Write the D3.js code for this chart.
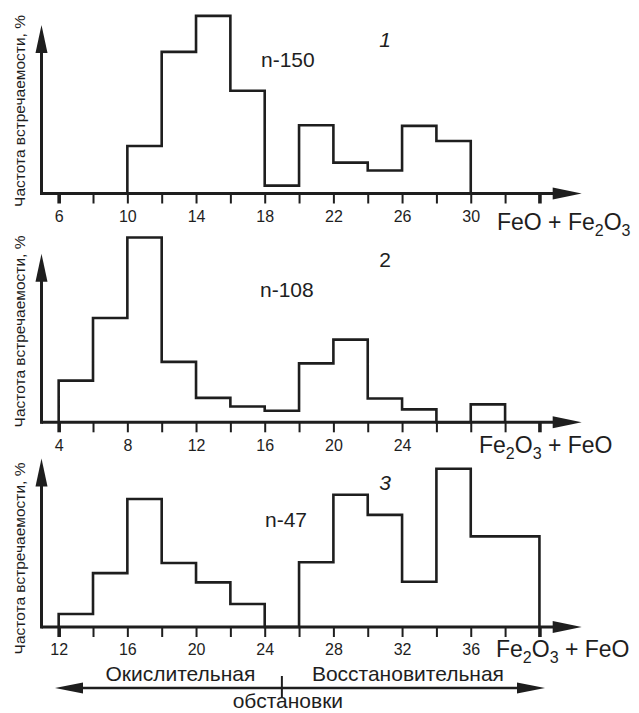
<!DOCTYPE html>
<html>
<head>
<meta charset="utf-8">
<script src="https://cdn.jsdelivr.net/npm/d3@7"></script>
<style>
  html, body { margin: 0; padding: 0; background: #fff; }
  svg text { font-family: "Liberation Sans", Arial, sans-serif; fill: #1e1e1e; }
</style>
</head>
<body>
<div id="chart"></div>
<script>
// histogram bins (class edges, wt.%) and frequencies (%)
const edges1 = [10, 12, 14, 16, 18, 20, 22, 24, 26, 28, 30];
const freq1 = [6.6, 19.7, 24.7, 14.3, 1.1, 9.5, 4.3, 3.2, 9.4, 7.3];

const edges2 = [4, 6, 8, 10, 12, 14, 16, 18, 20, 22, 24, 26, 28, 30];
const freq2 = [5.8, 14.5, 25.7, 8.4, 3.4, 2.2, 1.6, 8.2, 11.5, 3.3, 1.8, 0, 2.5];

const edges3 = [12, 14, 16, 18, 20, 22, 24, 26, 28, 30, 32, 34, 36, 40];
const freq3 = [1.8, 7.5, 17.8, 8.9, 6.2, 3.2, 0, 9.0, 18.4, 15.6, 6.3, 22.0, 12.6];

// axis ranges and labelled ticks
const domain1 = [5, 34], labels1 = [6, 10, 14, 18, 22, 26, 30];
const domain2 = [3, 32], labels2 = [4, 8, 12, 16, 20, 24];
const domain3 = [11, 40], labels3 = [12, 16, 20, 24, 28, 32, 36];

const sampleN = ["n-150", "n-108", "n-47"];
const panelNo = ["1", "2", "3"];
const yTitle = "Частота встречаемости, %";

// redox boundary for the bottom panel
const boundary = 25;
const regimeLabels = ["Окислительная", "Восстановительная"];
const regimeNote = "обстановки";

const W = 639, H = 713;
const color = "#1e1e1e";

const svg = d3.select("#chart").append("svg")
    .attr("width", W)
    .attr("height", H);

// layout of the three panels
const panels = [
  {edges: edges1, freq: freq1, domain: domain1, labels: labels1, base: 193.5, yMid: 111,
   title: [["FeO + Fe", 0], ["2", 1], ["O", 0], ["3", 1]], titleX: 497, titleY: 230,
   nX: 261, nY: 66.7, noY: 47, italic: true},
  {edges: edges2, freq: freq2, domain: domain2, labels: labels2, base: 422.3, yMid: 331.5,
   title: [["Fe", 0], ["2", 1], ["O", 0], ["3", 1], [" + FeO", 0]], titleX: 479, titleY: 453.3,
   nX: 260, nY: 296.7, noY: 266.7, italic: false},
  {edges: edges3, freq: freq3, domain: domain3, labels: labels3, base: 627, yMid: 558.5,
   title: [["Fe", 0], ["2", 1], ["O", 0], ["3", 1], [" + FeO", 0]], titleX: 496, titleY: 656.7,
   nX: 265, nY: 526.7, noY: 490, italic: true}
];

const pxPerUnit = 17.17;
const left = 41.5;

panels.forEach((p, i) => {
  const g = svg.append("g");

  const x = d3.scaleLinear()
      .domain(p.domain)
      .range([left, left + (p.domain[1] - p.domain[0]) * pxPerUnit]);

  const y = d3.scaleLinear()
      .domain([0, 25])
      .range([p.base, p.base - 179.75]);

  // histogram outline
  const pts = [[p.edges[0], 0]];
  p.freq.forEach((v, k) => {
    pts.push([p.edges[k], v], [p.edges[k + 1], v]);
  });
  pts.push([p.edges[p.edges.length - 1], 0]);

  const line = d3.line()
      .x(d => x(d[0]))
      .y(d => y(d[1]));

  g.append("path")
      .attr("d", line(pts))
      .attr("fill", "none")
      .attr("stroke", color)
      .attr("stroke-width", 2.6)
      .attr("stroke-linejoin", "miter");

  // x axis ticks
  const tickVals = d3.range(p.domain[0] + 1, p.domain[1] + 1, 2);
  const axis = g.append("g")
      .attr("transform", `translate(0,${p.base})`)
      .call(d3.axisBottom(x)
        .tickValues(tickVals)
        .tickSize(10)
        .tickPadding(7)
        .tickFormat(d => p.labels.includes(d) ? d : ""));
  axis.select(".domain").remove();
  axis.selectAll(".tick line")
      .attr("stroke", color)
      .attr("stroke-width", 2);
  axis.selectAll(".tick line")
      .filter((d, k, n) => k === 0 || k === n.length - 1)
      .attr("stroke-width", 3.6);
  axis.selectAll(".tick text")
      .attr("font-size", 16)
      .attr("fill", color)
      .style("font-family", "'Liberation Sans', Arial, sans-serif");

  // axis lines with arrows
  const x0 = x(p.domain[0]);
  const tipX = 581.7, tipY = p.base - 168.5;
  g.append("line")
      .attr("x1", x0).attr("x2", tipX - 20)
      .attr("y1", p.base).attr("y2", p.base)
      .attr("stroke", color).attr("stroke-width", 3);
  g.append("path")
      .attr("d", `M${tipX},${p.base} L${tipX - 29},${p.base - 6} L${tipX - 29},${p.base + 6} Z`)
      .attr("fill", color);
  g.append("line")
      .attr("x1", x0).attr("x2", x0)
      .attr("y1", p.base + 1.5).attr("y2", tipY + 20)
      .attr("stroke", color).attr("stroke-width", 3);
  g.append("path")
      .attr("d", `M${x0},${tipY} L${x0 - 6},${tipY + 28} L${x0 + 6},${tipY + 28} Z`)
      .attr("fill", color);

  // y title
  g.append("text")
      .attr("transform", `translate(24.5,${p.yMid}) rotate(-90)`)
      .attr("text-anchor", "middle")
      .attr("font-size", 15.5)
      .text(yTitle);

  // x title with subscripts
  const t = g.append("text")
      .attr("x", p.titleX)
      .attr("y", p.titleY)
      .attr("font-size", 23);
  p.title.forEach(([s, sub], k) => {
    const prevSub = k > 0 ? p.title[k - 1][1] : 0;
    t.append("tspan")
        .attr("font-size", sub ? 16 : 23)
        .attr("dy", sub === prevSub ? 0 : (sub ? 6 : -6))
        .text(s);
  });

  // n and panel number
  g.append("text")
      .attr("x", p.nX)
      .attr("y", p.nY)
      .attr("font-size", 21)
      .text(sampleN[i]);
  g.append("text")
      .attr("x", 385)
      .attr("y", p.noY)
      .attr("text-anchor", "middle")
      .attr("font-size", 21)
      .attr("font-style", p.italic ? "italic" : "normal")
      .text(panelNo[i]);

  // redox regimes under the last panel
  if (i === 2) {
    const bx = x(boundary);
    const ay = 688;
    const lTip = 55, rTip = 545;
    g.append("line")
        .attr("x1", lTip + 20).attr("x2", rTip - 20)
        .attr("y1", ay).attr("y2", ay)
        .attr("stroke", color).attr("stroke-width", 2.6);
    g.append("path")
        .attr("d", `M${lTip},${ay} L${lTip + 28},${ay - 5.5} L${lTip + 28},${ay + 5.5} Z`)
        .attr("fill", color);
    g.append("path")
        .attr("d", `M${rTip},${ay} L${rTip - 28},${ay - 5.5} L${rTip - 28},${ay + 5.5} Z`)
        .attr("fill", color);
    g.append("line")
        .attr("x1", bx).attr("x2", bx)
        .attr("y1", 676).attr("y2", 697.5)
        .attr("stroke", color).attr("stroke-width", 2);
    g.append("text")
        .attr("x", bx - 26.5).attr("y", 681)
        .attr("text-anchor", "end")
        .attr("font-size", 21)
        .text(regimeLabels[0]);
    g.append("text")
        .attr("x", bx + 30).attr("y", 681)
        .attr("font-size", 21)
        .text(regimeLabels[1]);
    g.append("text")
        .attr("x", bx + 6).attr("y", 708)
        .attr("text-anchor", "middle")
        .attr("font-size", 21)
        .text(regimeNote);
  }
});
</script>
</body>
</html>
